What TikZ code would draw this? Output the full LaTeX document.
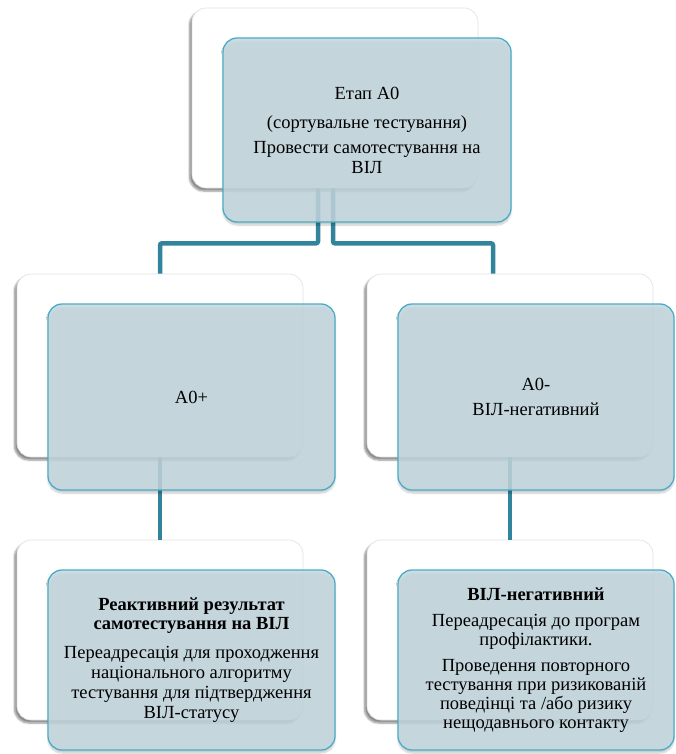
\documentclass[tikz,border=0pt]{standalone}
\usepackage{fontspec}
\setmainfont{Liberation Serif}
\usetikzlibrary{shadows.blur}
\definecolor{bfill}{RGB}{196,216,224}
\definecolor{bline}{RGB}{75,172,198}
\definecolor{connc}{RGB}{49,132,155}
\begin{document}
\begin{tikzpicture}[x=1pt,y=-1pt,
  wbox/.style={draw=black!12, fill=white, rounded corners=14pt, line width=0.6pt,
    blur shadow={shadow xshift=-2.5pt, shadow yshift=-3pt, shadow blur steps=6, shadow opacity=45},
    inner sep=0pt},
  bbox/.style={draw=bline, line width=1.3pt, fill=bfill, fill opacity=0.85, text opacity=1,
    rounded corners=14pt, align=center, inner sep=0pt,
    font=\fontsize{18.5}{20}\selectfont,
    blur shadow={shadow xshift=0pt, shadow yshift=-3pt, shadow blur steps=6, shadow opacity=25}},
  link/.style={draw=connc, line width=4.5pt, rounded corners=2pt}
]
\useasboundingbox (0,0) rectangle (676,754);
% white back boxes
\node[wbox, minimum width=286, minimum height=180] (w0) at (335,98) {};
\node[wbox, minimum width=286, minimum height=183] (wl) at (160,365.5) {};
\node[wbox, minimum width=286, minimum height=183] (wr) at (510,365.5) {};
\node[wbox, minimum width=286, minimum height=180] (wbl) at (160,630) {};
\node[wbox, minimum width=286, minimum height=180] (wbr) at (510,630) {};
% connectors
\draw[link] ([xshift=-17pt]w0.south) -- ++(0,55) -| (wl.north);
\draw[link] ([xshift=-2pt]w0.south) -- ++(0,55) -| ([xshift=-17pt]wr.north);
\draw[link] (wl.south) -- (wbl.north);
\draw[link] (wr.south) -- (wbr.north);
% blue front boxes
\node[bbox, minimum width=288, minimum height=184] (b0) at (367,130)
  {Етап А0\\[9pt] (сортувальне тестування)\\[5pt] Провести самотестування на\\ ВІЛ};
\node[bbox, minimum width=287, minimum height=186] (bl) at (191.5,397) {А0+};
\node[bbox, minimum width=276, minimum height=186] (br) at (536,397)
  {А0-\\[5pt] ВІЛ-негативний};
\node[bbox, minimum width=287, minimum height=180] (bbl) at (191.5,660)
  {\textbf{Реактивний результат}\\[-1pt] \textbf{самотестування на ВІЛ}\\[9pt]
   Переадресація для проходження\\ національного алгоритму\\
   тестування для підтвердження\\ ВІЛ-статусу};
\node[bbox, minimum width=276, minimum height=180] (bbr) at (536,660)
  {\textbf{ВІЛ-негативний}\\[6pt] Переадресація до програм\\[-1pt] профілактики.\\[6pt]
   Проведення повторного\\[-1pt] тестування при ризикованій\\[-1pt]
   поведінці та /або ризику\\[-1pt] нещодавнього контакту};
\end{tikzpicture}
\end{document}
